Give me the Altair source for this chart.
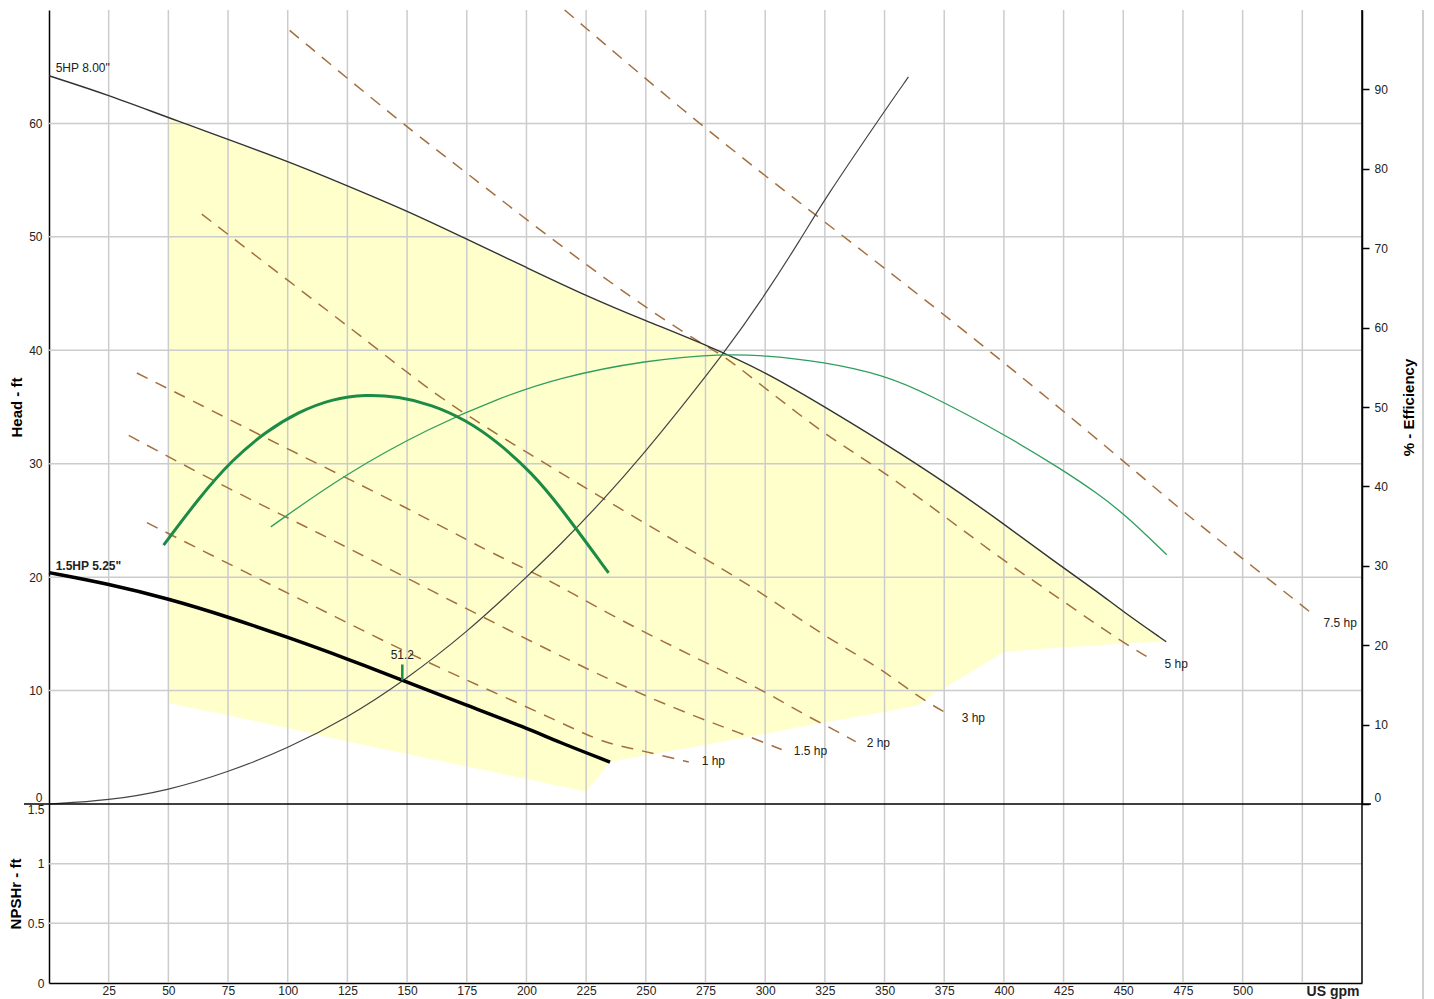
import altair as alt
import pandas as pd

# ---------------- data ----------------
# 5HP 8.00" pump curve (gpm, ft)
pump5_q = [0, 25, 50, 100, 125, 150, 175, 200, 225, 250, 275, 300, 325, 350, 375, 400, 421, 440, 449, 468]
pump5_h = [64.2, 62.5, 60.5, 56.7, 54.5, 52.3, 49.8, 47.3, 44.8, 42.6, 40.5, 38.1, 35.0, 31.8, 28.4, 24.7, 21.4, 18.6, 17.1, 14.3]

# 1.5HP 5.25" pump curve
pump15_q = [0, 25, 50, 75, 100, 125, 148, 175, 200, 213, 235]
pump15_h = [20.4, 19.4, 18.1, 16.5, 14.7, 12.8, 10.9, 8.7, 6.7, 5.5, 3.7]

# system curve
sys_q = [0, 25, 50, 75, 100, 125, 149, 175, 200, 214, 233, 248, 265, 282.2, 298.5, 315.5, 324.5, 350, 360]
sys_h = [0, 0.3, 1.2, 2.8, 4.9, 7.6, 10.9, 15.1, 20.0, 22.8, 27.0, 30.6, 35.0, 39.6, 44.4, 50.0, 53.2, 61.1, 64.1]

# efficiency curves (%)
eff15_q = [48, 62.7, 76.5, 90.8, 104.6, 118.4, 132.6, 146.5, 160.3, 174.5, 188.4, 202.2, 213.5, 234.4]
eff15_e = [32.6, 38.5, 43.3, 46.9, 49.4, 51.0, 51.6, 51.3, 50.3, 48.4, 45.5, 41.7, 37.7, 29.1]
eff5_q = [92.9, 124.7, 160.3, 188.4, 213.5, 250.1, 282.2, 299.4, 324.5, 350.1, 368.5, 400, 425, 439.7, 450.1, 468.2]
eff5_e = [34.9, 41.7, 47.5, 51.1, 53.7, 55.9, 56.7, 56.5, 55.7, 54.0, 51.6, 46.6, 42.0, 39.0, 36.6, 31.4]

# power (hp) lines
hp1_q = [41.0, 80.7, 120.1, 159.0, 200.9, 223.1, 233.2, 244.1, 254.1, 268.0]
hp1_h = [24.8, 20.6, 16.5, 12.4, 8.5, 6.3, 5.4, 4.9, 4.4, 3.7]
hp15_q = [33.4, 74.0, 113.0, 152.0, 192.6, 230.3, 251.2, 272.1, 288.9, 306.9]
hp15_h = [32.5, 27.9, 23.9, 19.7, 15.3, 11.4, 9.4, 7.6, 6.3, 4.8]
hp2_q = [36.8, 68.1, 107.5, 146.5, 185.4, 205.1, 219.0, 237.8, 257.5, 277.6, 300.2, 317.0, 326.6, 337.9]
hp2_h = [38.0, 34.7, 30.5, 26.5, 22.1, 20.2, 18.6, 16.4, 14.3, 12.2, 9.9, 7.8, 6.8, 5.5]
hp3_q = [64.0, 100.4, 136.0, 164.5, 200.9, 238.6, 277.6, 300.2, 325.3, 347.5, 364.3, 376.0]
hp3_h = [52.0, 46.1, 40.4, 35.6, 30.9, 26.1, 21.3, 18.4, 14.7, 12.1, 9.4, 8.0]
hp5_q = [100.8, 147.8, 173.3, 209.3, 245.3, 273.0, 282.2, 299.8, 326.6, 349.6, 400.7, 412.4, 430.0, 448.8, 460.6]
hp5_h = [68.2, 60.0, 55.9, 50.0, 44.4, 40.6, 39.6, 36.7, 32.3, 29.4, 21.3, 19.7, 17.1, 14.4, 12.9]
hp75_q = [216.0, 273.0, 323.7, 379.8, 439.7, 475.3, 499.6, 529.0]
hp75_h = [70.0, 59.8, 51.5, 42.4, 32.1, 25.7, 21.7, 16.8]

hp_names = ["1 hp", "1.5 hp", "2 hp", "3 hp", "5 hp", "7.5 hp"]
hp_label_q = [273.4, 312.0, 342.5, 382.3, 467.3, 533.9]
hp_label_h = [3.8, 4.7, 5.4, 7.6, 12.3, 16.0]

# operating range (yellow band)
band_q = [50, 100, 125, 150, 175, 200, 225, 235, 250, 275, 282, 300, 325, 350, 364, 371, 375, 400, 423, 440, 451, 468]
band_top = [60.5, 56.7, 54.5, 52.3, 49.8, 47.3, 44.8, 43.9, 42.6, 40.5, 39.8, 38.1, 35.0, 31.8, 29.9, 29.0, 28.4, 24.7, 21.1, 18.6, 16.9, 14.3]
band_bottom = [8.9, 6.7, 5.5, 4.4, 3.3, 2.2, 1.1, 3.7, 4.3, 5.2, 5.5, 6.2, 7.2, 8.1, 8.7, 9.8, 10.2, 13.4, 13.8, 14.0, 14.2, 14.3]

# curve labels
curve_names = ['5HP 8.00"', '1.5HP 5.25"']
curve_label_q = [2.8, 2.8]
curve_label_h = [64.85, 20.95]
curve_label_weight = ["normal", "bold"]

# operating point
op_q = [148]
op_h = [10.9]
op_h2 = [12.3]
op_eff = [51.2]
op_label_h = [13.1]

# axes / grid
head_ticks = [0, 10, 20, 30, 40, 50, 60]
eff_ticks = [0, 10, 20, 30, 40, 50, 60, 70, 80, 90]
npsh_ticks = [0, 0.5, 1, 1.5]
flow_ticks = [25, 50, 75, 100, 125, 150, 175, 200, 225, 250, 275, 300, 325, 350,
              375, 400, 425, 450, 475, 500]
grid_flow = flow_ticks + [525]
grid_head = [10, 20, 30, 40, 50, 60]
grid_npsh = [0.5, 1.0]

# ---------------- frames ----------------
pump5_df = pd.DataFrame({"q": pump5_q, "h": pump5_h})
pump15_df = pd.DataFrame({"q": pump15_q, "h": pump15_h})
sys_df = pd.DataFrame({"q": sys_q, "h": sys_h})
eff15_df = pd.DataFrame({"q": eff15_q, "e": eff15_e})
eff5_df = pd.DataFrame({"q": eff5_q, "e": eff5_e})
hp_rows = []
for name, qs, hs in zip(hp_names, [hp1_q, hp15_q, hp2_q, hp3_q, hp5_q, hp75_q],
                        [hp1_h, hp15_h, hp2_h, hp3_h, hp5_h, hp75_h]):
    for q, h in zip(qs, hs):
        hp_rows.append({"hp": name, "q": q, "h": h})
hp_df = pd.DataFrame(hp_rows)
hp_lbl_df = pd.DataFrame({"t": hp_names, "q": hp_label_q, "h": hp_label_h})
band_df = pd.DataFrame({"q": band_q, "top": band_top, "bottom": band_bottom})
curve_lbl_df = pd.DataFrame({"t": curve_names, "q": curve_label_q, "h": curve_label_h,
                             "w": curve_label_weight})
op_df = pd.DataFrame({"q": op_q, "h": op_h, "h2": op_h2, "e": op_eff, "lh": op_label_h})
op_df["t"] = op_df["e"].map(lambda v: f"{v:.1f}")
gq_df = pd.DataFrame({"g": grid_flow})
gh_df = pd.DataFrame({"g": grid_head})
gn_df = pd.DataFrame({"g": grid_npsh})
zero_df = pd.DataFrame({"h": [0]})
edge_df = pd.DataFrame({"g": [550]})

# ---------------- layout / styling ----------------
W = 1313           # plot width
HM = 794           # head / efficiency panel height
HN = 179           # NPSHr panel height
H = HM + HN
FONT = "Liberation Sans"
TXT = "#222222"
GRID = "#cccccc"
DASH = "#A46F3E"

x_scale = alt.Scale(domain=[0, 550], nice=False, zero=False)
head_scale = alt.Scale(domain=[0, 70], range=[HM, 0], nice=False, zero=False)
eff_scale = alt.Scale(domain=[0, 100], range=[HM, 0], nice=False, zero=False)
npsh_scale = alt.Scale(domain=[0, 1.5], range=[H, HM], nice=False, zero=False)

title_style = dict(titleFont=FONT, titleFontSize=15, titleFontWeight="bold", titleColor="black")
label_style = dict(labelFontSize=12, labelFont=FONT, labelColor=TXT)

flow_axis = alt.Axis(values=flow_ticks, orient="bottom", title="US gpm", grid=False, ticks=False,
                     labelPadding=2, labelFlush=False, domainColor="black", domainWidth=1.5,
                     titleFont=FONT, titleFontSize=14, titleFontWeight="bold", titleColor=TXT,
                     titleX=W - 3, titleY=12, titleAlign="right", titleBaseline="alphabetic",
                     **label_style)

head_axis = alt.Axis(values=head_ticks, orient="left", title="Head - ft", grid=False, ticks=False,
                     labelPadding=7, labelFlush=True, labelFlushOffset=0,
                     domainColor="black", domainWidth=1.5, titlePadding=4,
                     **label_style, **title_style)

eff_axis = alt.Axis(values=eff_ticks, orient="right", title="% - Efficiency", grid=False,
                    ticks=True, tickSize=7, tickColor="black", tickWidth=1.5,
                    labelPadding=5, labelFlush=True, labelFlushOffset=0,
                    domainColor="black", domainWidth=1.5,
                    titleAngle=270, titleBaseline="top", titlePadding=14,
                    **label_style, **title_style)

npsh_axis = alt.Axis(values=npsh_ticks, orient="left", title="NPSHr - ft", grid=False, ticks=False,
                     format="~g", labelPadding=5,
                     labelBaseline={"condition": {"test": "datum.value >= 1.5", "value": "top"},
                                    "value": "middle"},
                     domainColor="black", domainWidth=1.5, titlePadding=4,
                     **label_style, **title_style)


def xs(field):
    # every layer carries the same (shared) flow axis definition
    return alt.X(f"{field}:Q", scale=x_scale, axis=flow_axis)


def yh(field, axis=None):
    return alt.Y(f"{field}:Q", scale=head_scale, axis=axis)


def ye(field, axis=None):
    return alt.Y(f"{field}:Q", scale=eff_scale, axis=axis)


def yn(field, axis=None):
    return alt.Y(f"{field}:Q", scale=npsh_scale, axis=axis)


# ---------------- layers ----------------
band = alt.Chart(band_df).mark_area(color="#FFFFCC", opacity=1, interpolate="linear").encode(
    x=xs("q"), y=yh("top"), y2=alt.Y2("bottom"))

vgrid = alt.Chart(gq_df).mark_rule(color=GRID, strokeWidth=1.5).encode(x=xs("g"))
hgrid = alt.Chart(gh_df).mark_rule(color=GRID, strokeWidth=1.5).encode(y=yh("g", head_axis))
ngrid = alt.Chart(gn_df).mark_rule(color=GRID, strokeWidth=1.5).encode(y=yn("g", npsh_axis))
right_edge = alt.Chart(edge_df).mark_rule(color="black", strokeWidth=1.5).encode(x=xs("g"))
page_edge = alt.Chart(edge_df).mark_rule(color="#d0d0d0", strokeWidth=2).encode(
    x=alt.value(W + 61), y=alt.value(0), y2=alt.value(H + 16))

zero_line = alt.Chart(zero_df).mark_rule(color="black", strokeWidth=1.5).encode(
    y=yh("h"), x=alt.value(-25), x2=alt.value(W + 9))

hp_lines = alt.Chart(hp_df).mark_line(color=DASH, strokeWidth=1.5, strokeDash=[12, 9],
                                      interpolate="basis").encode(
    x=xs("q"), y=yh("h"), detail="hp:N")

hp_text = alt.Chart(hp_lbl_df).mark_text(align="left", baseline="middle", font=FONT,
                                         fontSize=12, color=TXT).encode(
    x=xs("q"), y=yh("h"), text="t:N")

sys_line = alt.Chart(sys_df).mark_line(color="#444444", strokeWidth=1.2,
                                       interpolate="basis").encode(x=xs("q"), y=yh("h"))
pump5_line = alt.Chart(pump5_df).mark_line(color="#333333", strokeWidth=1.4,
                                           interpolate="basis").encode(x=xs("q"), y=yh("h"))
pump15_line = alt.Chart(pump15_df).mark_line(color="black", strokeWidth=3.5,
                                             interpolate="basis").encode(x=xs("q"), y=yh("h"))

curve_text_normal = alt.Chart(curve_lbl_df[curve_lbl_df.w == "normal"]).mark_text(
    align="left", baseline="middle", font=FONT, fontSize=12, color=TXT).encode(
    x=xs("q"), y=yh("h"), text="t:N")
curve_text_bold = alt.Chart(curve_lbl_df[curve_lbl_df.w == "bold"]).mark_text(
    align="left", baseline="middle", font=FONT, fontSize=12, fontWeight="bold", color=TXT).encode(
    x=xs("q"), y=yh("h"), text="t:N")

eff5_line = alt.Chart(eff5_df).mark_line(color="#2E9E5E", strokeWidth=1.3,
                                         interpolate="basis").encode(x=xs("q"), y=ye("e", eff_axis))
eff15_line = alt.Chart(eff15_df).mark_line(color="#1B8B45", strokeWidth=3,
                                           interpolate="basis").encode(x=xs("q"), y=ye("e"))

op_tick = alt.Chart(op_df).mark_rule(color="#1B8B45", strokeWidth=2.5).encode(
    x=xs("q"), y=yh("h"), y2=alt.Y2("h2"))
op_text = alt.Chart(op_df).mark_text(align="center", baseline="middle", font=FONT, fontSize=12,
                                     color=TXT).encode(x=xs("q"), y=yh("lh"), text="t:N")

chart = alt.layer(
    band, vgrid, hgrid, ngrid, hp_lines, hp_text, sys_line, pump5_line, pump15_line,
    curve_text_normal, curve_text_bold, eff5_line, eff15_line, op_tick, op_text,
    zero_line, right_edge, page_edge
).resolve_scale(y="independent").properties(
    width=W, height=H,
    padding={"left": 0, "top": -1, "right": 0, "bottom": 0}
).configure_view(stroke=None)

chart.save("out.html", embed_options={"renderer": "svg", "actions": False})
